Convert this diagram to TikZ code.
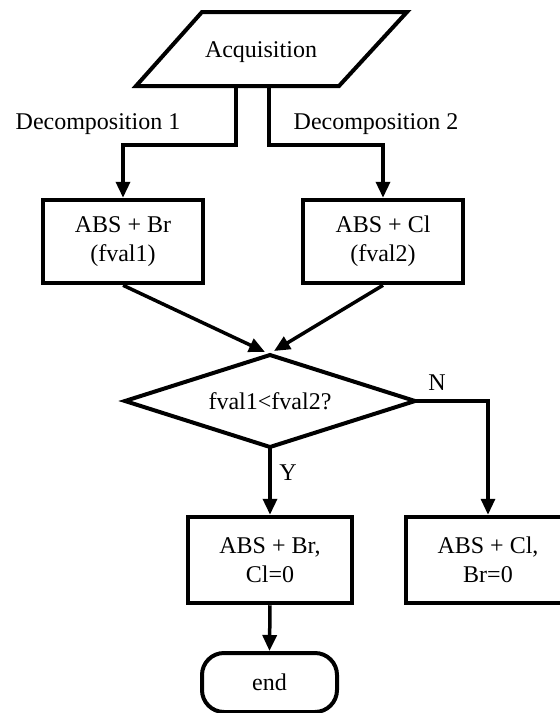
\documentclass[tikz,border=0pt]{standalone}
\usepackage{fontspec}
\setmainfont{Liberation Serif}
\usetikzlibrary{shapes.geometric,arrows.meta}
\begin{document}
\begin{tikzpicture}[x=1pt,y=-1pt,
  font=\fontsize{24}{29}\selectfont,
  box/.style={draw,line width=4.5pt,minimum width=160pt,minimum height=83pt,align=center,inner sep=0pt},
  bigbox/.style={box,minimum width=164pt,minimum height=86pt},
  conn/.style={line width=3.5pt,-{Triangle[width=14pt,length=16pt]}},
  lbl/.style={inner sep=0pt}]
\clip (0,0) rectangle (560,713);
% input parallelogram
\draw[line width=4pt,line join=miter] (202,12) -- (407,12) -- (339,86) -- (136,86) -- cycle;
\node[lbl] (acq) at (261,52) {Acquisition};
\coordinate (s1) at (236,86);
\coordinate (s2) at (269,86);
% decomposition boxes
\node[box] (b1) at (123,241.5) {ABS + Br\\(fval1)};
\node[box] (b2) at (383,241.5) {ABS + Cl\\(fval2)};
\node[lbl] (d1) at (98,124) {Decomposition 1};
\node[lbl] (d2) at (376,124) {Decomposition 2};
\draw[conn] (s1) -- ++(0,59) -| (b1.north);
\draw[conn] (s2) -- ++(0,59) -| (b2.north);
% decision
\node[draw,diamond,shape aspect=3.15,line width=4pt,minimum width=290pt,minimum height=92pt,inner sep=0pt,outer sep=0pt] (dia) at (270,401) {fval1<fval2?};
\coordinate (t1) at (265,352);
\coordinate (t2) at (274,351);
\draw[conn] (b1.south) -- (t1);
\draw[conn] (b2.south) -- (t2);
% outcomes
\node[bigbox] (b3) at (270,560) {ABS + Br,\\Cl=0};
\node[bigbox] (b4) at (488,560) {ABS + Cl,\\Br=0};
\draw[conn] (dia.south) -- (b3.north);
\node[lbl] (ylbl) at (288,473) {Y};
\draw[conn,line width=3.2pt] (dia.east) -| (b4.north);
\node[lbl] (nlbl) at (437,383) {N};
% end
\node[draw,line width=4pt,rounded corners=22pt,minimum width=135pt,minimum height=59pt,inner sep=0pt] (endn) at (269.5,682.5) {end};
\draw[conn] (b3.south) -- (endn.north);
\end{tikzpicture}
\end{document}
